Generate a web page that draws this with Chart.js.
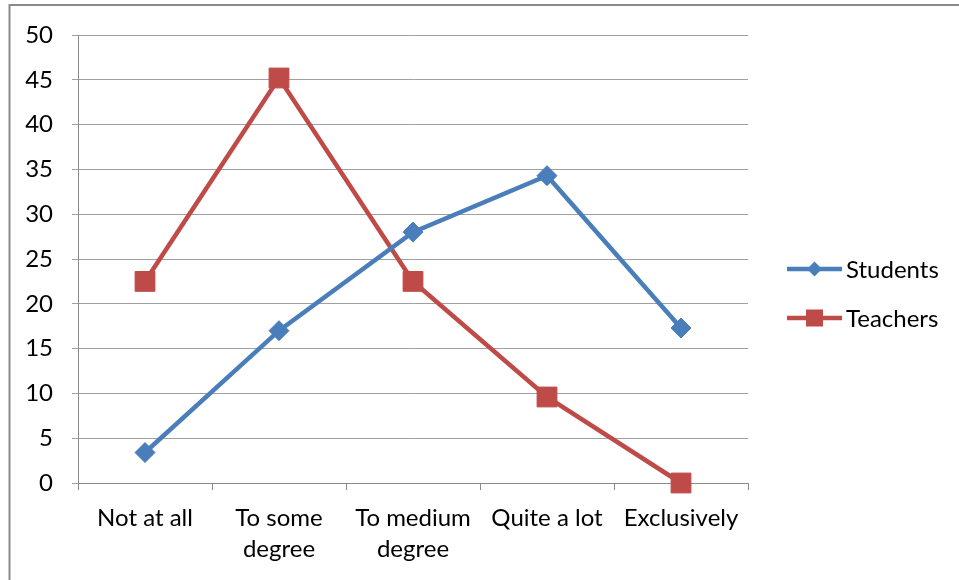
<!DOCTYPE html>
<html>
<head>
<meta charset="utf-8">
<script src="https://cdn.jsdelivr.net/npm/chart.js@4"></script>
<style>
  html, body { margin: 0; padding: 0; background: #ffffff; }
  #wrap { width: 959px; height: 580px; }
</style>
</head>
<body>
<div id="wrap"><canvas id="chart" width="959" height="580"></canvas></div>
<script>
// Response categories (x axis)
const categories = [
  ['Not at all'],
  ['To some', 'degree'],
  ['To medium', 'degree'],
  ['Quite a lot'],
  ['Exclusively']
];

// Percentages per group
const students = [3.4, 17, 28, 34.3, 17.3];
const teachers = [22.5, 45.2, 22.5, 9.6, 0];

// Y axis range
const yMin = 0;
const yMax = 50;
const yStep = 5;

const seriesNames = ['Students', 'Teachers'];
const blue = '#4a7ebb';
const red = '#be4b48';
const fontFamily = 'Lato, "Liberation Sans", sans-serif';
const fontSize = 24;

// Grey frame around the chart (left and top edges)
const framePlugin = {
  id: 'frame',
  beforeDraw(chart) {
    const ctx = chart.ctx;
    ctx.save();
    ctx.fillStyle = '#ffffff';
    ctx.fillRect(0, 0, chart.width, chart.height);
    ctx.strokeStyle = '#8a8a8a';
    ctx.lineWidth = 2;
    ctx.beginPath();
    ctx.moveTo(9.5, chart.height);
    ctx.lineTo(9.5, 5);
    ctx.lineTo(chart.width, 5);
    ctx.stroke();
    ctx.restore();
  }
};

// Legend on the right: a short line with the series marker, then the name
const sideLegend = {
  id: 'sideLegend',
  afterDraw(chart) {
    const ctx = chart.ctx;
    const rows = [269, 318];
    ctx.save();
    chart.data.datasets.forEach((ds, i) => {
      const y = rows[i];
      const x0 = 787, x1 = 842, cx = (x0 + x1) / 2;
      ctx.strokeStyle = ds.borderColor;
      ctx.lineWidth = 4.5;
      ctx.lineCap = 'butt';
      ctx.beginPath();
      ctx.moveTo(x0, y);
      ctx.lineTo(x1, y);
      ctx.stroke();
      ctx.fillStyle = ds.backgroundColor;
      ctx.beginPath();
      if (ds.pointStyle === 'rectRot') {
        const r = 7.5;
        ctx.moveTo(cx, y - r);
        ctx.lineTo(cx + r, y);
        ctx.lineTo(cx, y + r);
        ctx.lineTo(cx - r, y);
        ctx.closePath();
      } else {
        const h = 8.5;
        ctx.rect(cx - h, y - h, 2 * h, 2 * h);
      }
      ctx.fill();
      ctx.fillStyle = '#000000';
      ctx.font = fontSize + 'px ' + fontFamily;
      ctx.textAlign = 'left';
      ctx.textBaseline = 'middle';
      ctx.fillText(ds.label, 846, y + 1);
    });
    ctx.restore();
  }
};

new Chart(document.getElementById('chart'), {
  type: 'line',
  data: {
    labels: categories,
    datasets: [
      {
        label: seriesNames[0],
        data: students,
        borderColor: blue,
        backgroundColor: blue,
        borderWidth: 4.5,
        pointStyle: 'rectRot',
        pointRadius: 10,
        pointBorderWidth: 1,
        pointHoverRadius: 10,
        tension: 0,
        clip: false
      },
      {
        label: seriesNames[1],
        data: teachers,
        borderColor: red,
        backgroundColor: red,
        borderWidth: 4.5,
        pointStyle: 'rect',
        pointRadius: 14,
        pointBorderWidth: 1,
        pointHoverRadius: 14,
        tension: 0,
        clip: false
      }
    ]
  },
  options: {
    responsive: false,
    devicePixelRatio: 1,
    animation: false,
    layout: { padding: { left: 0, top: 35, right: 211, bottom: 0 } },
    plugins: {
      legend: { display: false },
      tooltip: { enabled: false }
    },
    scales: {
      x: {
        type: 'category',
        offset: true,
        afterFit(scale) { scale.height = 97; },
        grid: {
          offset: true,
          drawOnChartArea: false,
          drawTicks: true,
          tickLength: 7,
          color: '#8a8a8a'
        },
        border: { display: true, color: '#8a8a8a', width: 1 },
        ticks: {
          color: '#000000',
          padding: 13,
          maxRotation: 0,
          autoSkip: false,
          font: { family: fontFamily, size: fontSize, lineHeight: '31px' }
        }
      },
      y: {
        min: yMin,
        max: yMax,
        afterFit(scale) { scale.width = 78; },
        grid: {
          color: '#a0a0a0',
          lineWidth: 1,
          drawTicks: true,
          tickLength: 6
        },
        border: { display: true, color: '#8a8a8a', width: 1 },
        ticks: {
          stepSize: yStep,
          color: '#000000',
          padding: 19,
          font: { family: fontFamily, size: fontSize }
        }
      }
    }
  },
  plugins: [framePlugin, sideLegend]
});
</script>
</body>
</html>
